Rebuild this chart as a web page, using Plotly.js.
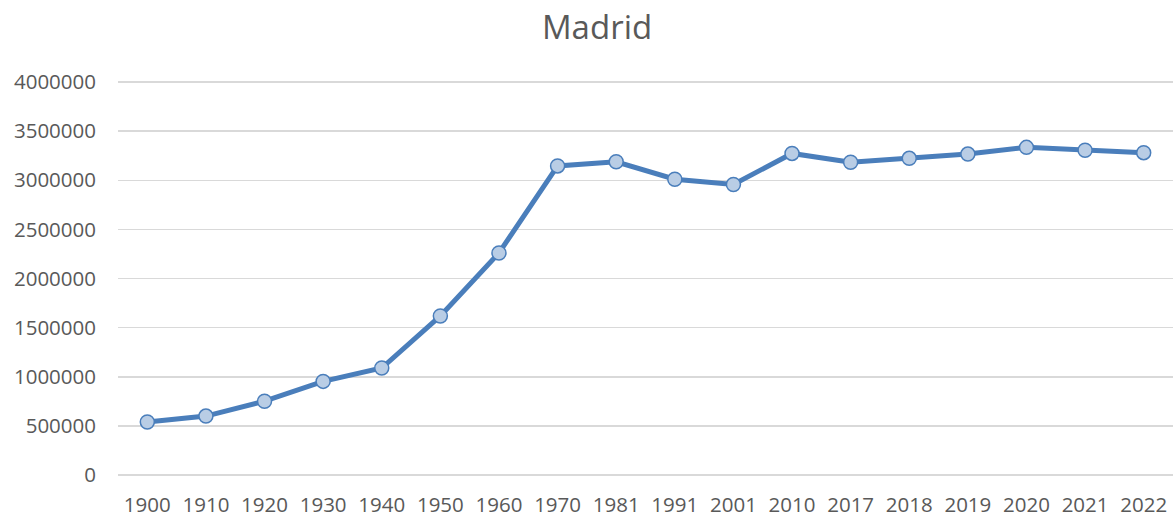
<!DOCTYPE html>
<html>
<head>
<meta charset="utf-8">
<script src="https://cdn.plot.ly/plotly-3.0.1.min.js"></script>
<style>html,body{margin:0;padding:0;background:#fff;}#chart{width:1173px;height:519px;}</style>
</head>
<body>
<div id="chart"></div>
<script>
const years = ["1900","1910","1920","1930","1940","1950","1960","1970","1981","1991","2001","2010","2017","2018","2019","2020","2021","2022"];
const population = [539835,599807,750896,952832,1088647,1618435,2259931,3146071,3188297,3010492,2957058,3273049,3182981,3223334,3266126,3334730,3305408,3280782];
const yTicks = [0,500000,1000000,1500000,2000000,2500000,3000000,3500000,4000000];

const trace = {
  x: years, y: population, type: 'scatter', mode: 'lines+markers',
  line: {color: '#4a7ebb', width: 5},
  marker: {size: 14, color: '#b9cde5', line: {color: '#4a7ebb', width: 1.5}},
  hoverinfo: 'x+y'
};
const pad = 4 * 4000000 / 393;
const layout = {
  width: 1173, height: 519,
  margin: {l: 118, r: 0, t: 78, b: 40},
  paper_bgcolor: '#fff', plot_bgcolor: '#fff',
  font: {family: 'Open Sans, Liberation Sans, sans-serif', color: '#595959', size: 20},
  title: {text: 'Madrid', x: 0.509, xanchor: 'center', y: 0.948, yanchor: 'middle', font: {size: 33, color: '#595959'}},
  showlegend: false,
  xaxis: {type: 'category', range: [-0.5, 17.5], showgrid: false, zeroline: false, showline: false, ticks: '', ticklabelstandoff: 11, tickfont: {size: 20.5, color: '#595959'}, fixedrange: true},
  yaxis: {range: [-pad, 4000000 + pad], tickvals: yTicks, ticktext: yTicks.map(String), showgrid: true, gridcolor: '#d9d9d9', gridwidth: 1.5, zeroline: false, showline: false, ticks: '', ticklabelstandoff: 21, tickfont: {size: 20.5, color: '#595959'}, fixedrange: true}
};
Plotly.newPlot('chart', [trace], layout, {displayModeBar: false, staticPlot: true});
</script>
</body>
</html>
